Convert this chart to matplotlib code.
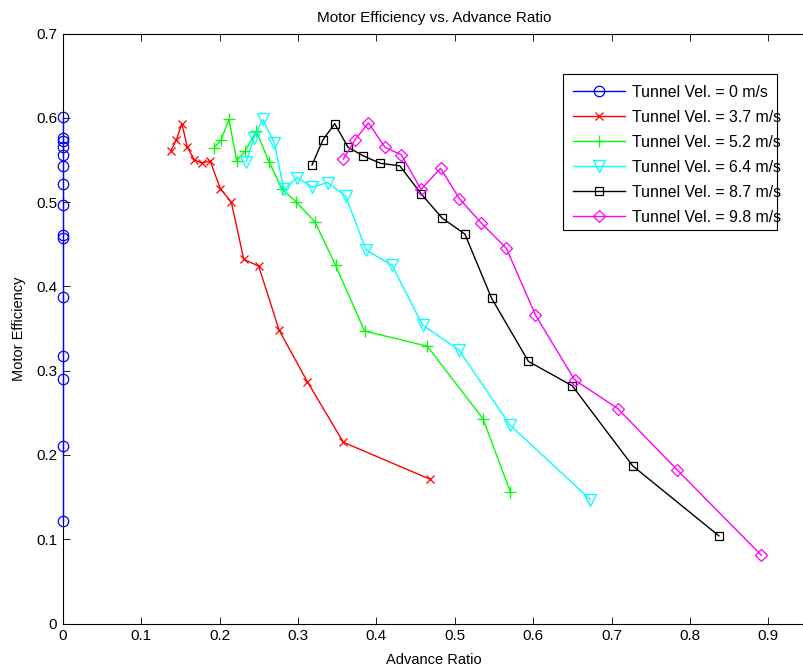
import matplotlib
matplotlib.use("Agg")
import matplotlib.pyplot as plt
from matplotlib.patches import Rectangle

plt.rcParams['font.family'] = ['Liberation Sans', 'DejaVu Sans']

# ---- data ----
j_0 = [0, 0, 0, 0, 0, 0, 0, 0, 0, 0, 0, 0, 0, 0, 0]
eff_0 = [0.601, 0.576, 0.572, 0.565, 0.556, 0.543, 0.521, 0.496, 0.461, 0.457,
         0.387, 0.317, 0.290, 0.211, 0.122]

j_37 = [0.138, 0.145, 0.152, 0.159, 0.168, 0.178, 0.188, 0.201, 0.215, 0.231,
        0.250, 0.276, 0.312, 0.358, 0.469]
eff_37 = [0.561, 0.574, 0.593, 0.565, 0.550, 0.546, 0.549, 0.516, 0.500, 0.432,
          0.424, 0.348, 0.287, 0.215, 0.171]

j_52 = [0.193, 0.202, 0.212, 0.222, 0.233, 0.247, 0.263, 0.280, 0.298, 0.322,
        0.348, 0.385, 0.465, 0.536, 0.571]
eff_52 = [0.564, 0.574, 0.598, 0.549, 0.561, 0.584, 0.548, 0.515, 0.500, 0.476,
          0.425, 0.347, 0.329, 0.243, 0.156]

j_64 = [0.234, 0.244, 0.255, 0.270, 0.282, 0.299, 0.318, 0.338, 0.361, 0.387,
        0.420, 0.459, 0.505, 0.570, 0.673]
eff_64 = [0.548, 0.576, 0.598, 0.570, 0.515, 0.529, 0.518, 0.523, 0.507, 0.443,
          0.425, 0.354, 0.325, 0.236, 0.147]

j_87 = [0.318, 0.332, 0.347, 0.364, 0.383, 0.405, 0.430, 0.457, 0.484, 0.513,
        0.547, 0.594, 0.650, 0.727, 0.837]
eff_87 = [0.544, 0.574, 0.593, 0.565, 0.555, 0.546, 0.543, 0.510, 0.481, 0.462,
          0.386, 0.311, 0.282, 0.187, 0.104]

j_98 = [0.358, 0.373, 0.390, 0.411, 0.432, 0.457, 0.482, 0.506, 0.534, 0.566,
        0.603, 0.653, 0.708, 0.784, 0.891]
eff_98 = [0.551, 0.574, 0.594, 0.565, 0.556, 0.515, 0.540, 0.504, 0.475, 0.445,
          0.366, 0.289, 0.255, 0.182, 0.081]

labels = ['Tunnel Vel. = 0 m/s', 'Tunnel Vel. = 3.7 m/s', 'Tunnel Vel. = 5.2 m/s',
          'Tunnel Vel. = 6.4 m/s', 'Tunnel Vel. = 8.7 m/s', 'Tunnel Vel. = 9.8 m/s']
x_ticks = [0, 0.1, 0.2, 0.3, 0.4, 0.5, 0.6, 0.7, 0.8, 0.9]
x_tick_labels = ['0', '0.1', '0.2', '0.3', '0.4', '0.5', '0.6', '0.7', '0.8', '0.9']
y_ticks = [0, 0.1, 0.2, 0.3, 0.4, 0.5, 0.6, 0.7]
y_tick_labels = ['0', '0.1', '0.2', '0.3', '0.4', '0.5', '0.6', '0.7']

W, H = 804, 670
fig = plt.figure(figsize=(W / 100, H / 100), dpi=100)
left, right, top, bottom = 62.7, 805.0, 33.5, 623.5
ax = fig.add_axes([left / W, 1 - bottom / H, (right - left) / W, (bottom - top) / H])

xmax = (right - left) / 784.0

series = [
    (j_0, eff_0, (0, 0, 1), 'o', 7.5),
    (j_37, eff_37, (1, 0, 0), 'x', 5.5),
    (j_52, eff_52, (0, 1, 0), '+', 8),
    (j_64, eff_64, (0, 1, 1), 'v', 8.5),
    (j_87, eff_87, (0, 0, 0), 's', 5.8),
    (j_98, eff_98, (1, 0, 1), 'D', 6.2),
]
for i, (xs, ys, c, m, ms) in enumerate(series):
    ax.plot(xs, ys, color=c, marker=m, markersize=ms, markerfacecolor='none',
            markeredgecolor=c, markeredgewidth=0.9, linewidth=1.0,
            label=labels[i], clip_on=(i != 0), zorder=3 + (1 if i == 0 else 0))

ax.set_xlim(0, xmax)
ax.set_ylim(0, 0.7)
ax.set_xticks(x_ticks)
ax.set_xticklabels(x_tick_labels)
ax.set_yticks(y_ticks)
ax.set_yticklabels(y_tick_labels)
ax.tick_params(direction='in', top=True, right=False, length=5, width=0.6,
               labelsize=11, pad=4, colors='black')
for s in ax.spines.values():
    s.set_linewidth(0.8)

ax.set_title('Motor Efficiency vs. Advance Ratio', fontsize=11, pad=8)
ax.set_xlabel('Advance Ratio', fontsize=10.5, labelpad=7)
ax.set_ylabel('Motor Efficiency', fontsize=10.5, labelpad=7)

# legend box (drawn separately so long labels may overrun it, as in the original)
lx0, ly0, lx1, ly1 = 563, 74, 777, 230
ax.add_patch(Rectangle((lx0 / W, 1 - ly1 / H), (lx1 - lx0) / W, (ly1 - ly0) / H,
                       transform=fig.transFigure, facecolor='white', edgecolor='black',
                       linewidth=0.8, zorder=4.5, clip_on=False))
leg = ax.legend(loc='upper left', bbox_to_anchor=((lx0 + 2) / W, 1 - (ly0 + 3) / H),
                bbox_transform=fig.transFigure,
                fontsize=11.4, frameon=False,
                borderpad=0.5, labelspacing=0.63, handlelength=3.3, handletextpad=0.45,
                borderaxespad=0)
leg.set_zorder(5)

fig.savefig('out.png', dpi=100)
